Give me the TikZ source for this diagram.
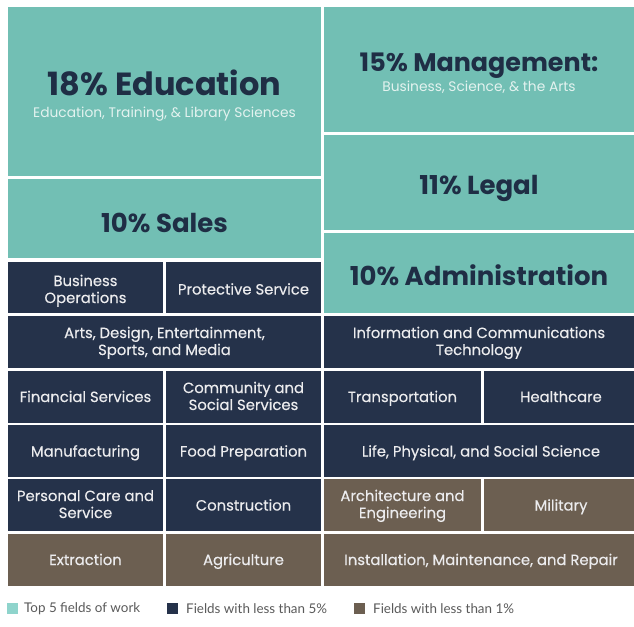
\documentclass[tikz,border=0pt]{standalone}
\usepackage{fontspec}
\setmainfont{Poppins}
\newfontfamily\legendfont{Lato}
\newfontfamily\tilefont[FakeBold=0.35]{Poppins}
\definecolor{tealc}{HTML}{72BFB4}
\definecolor{navyc}{HTML}{25324A}
\definecolor{brownc}{HTML}{6C5F51}
\definecolor{headc}{HTML}{1F2E45}
\definecolor{subc}{HTML}{E3F2EF}
\definecolor{labc}{HTML}{ECECEE}
\definecolor{legteal}{HTML}{8FD4CC}
\definecolor{legtext}{HTML}{5A5A5A}
\newcommand{\oneline}[4]{\node[labtxt] (#1) at (#2,#3+5) {#4};}
\newcommand{\twoline}[5]{\node[labtxt] (#1a) at (#2,#3-3) {#4};
  \node[labtxt] (#1b) at (#2,#3+14) {#5};}
\begin{document}
\begin{tikzpicture}[x=1pt,y=-1pt,
  tilebox/.style={inner sep=0pt, outer sep=0pt, draw=none},
  topbox/.style={tilebox, fill=tealc},
  lowbox/.style={tilebox, fill=navyc},
  rarebox/.style={tilebox, fill=brownc},
  labtxt/.style={inner sep=0pt, anchor=base, text=labc, font=\tilefont\fontsize{14.8}{17}\selectfont},
  headtxt/.style={inner sep=0pt, anchor=base, text=headc, font=\fontsize{32}{35}\selectfont\bfseries},
  midhead/.style={headtxt, font=\fontsize{26}{29}\selectfont\bfseries},
  subtxt/.style={inner sep=0pt, anchor=base, text=subc, font=\fontsize{13.8}{16}\selectfont},
  legsq/.style={inner sep=0pt, outer sep=0pt, minimum size=11pt},
  legtxt/.style={inner sep=0pt, anchor=west, text=legtext, font=\legendfont\fontsize{13.4}{15}\selectfont}
]
\useasboundingbox[fill=white] (0,0) rectangle (634,626);

% top five
\node[topbox, minimum width=313pt, minimum height=169pt] (edu) at (164.5,91.5) {};
\node[headtxt] (edut) at (164.5,95) {18\% Education};
\node[subtxt] (edus) at (164.5,117) {Education, Training, \& Library Sciences};

\node[topbox, minimum width=313pt, minimum height=79pt] (sales) at (164.5,218.5) {};
\node[midhead] (salest) at (164.5,232) {10\% Sales};

\node[topbox, minimum width=310pt, minimum height=125pt] (mgmt) at (479,69.5) {};
\node[midhead, font=\fontsize{25.4}{28}\selectfont\bfseries] (mgmtt) at (479,71) {15\% Management:};
\node[subtxt] (mgmts) at (479,91) {Business, Science, \& the Arts};

\node[topbox, minimum width=310pt, minimum height=95pt] (legal) at (479,182.5) {};
\node[midhead] (legalt) at (479,194) {11\% Legal};

\node[topbox, minimum width=310pt, minimum height=80pt] (admin) at (479,273) {};
\node[midhead] (admint) at (479,285) {10\% Administration};

% row 1
\node[lowbox, minimum width=155pt, minimum height=51pt] (busops) at (85.5,287.5) {};
\node[lowbox, minimum width=155pt, minimum height=51pt] (protect) at (243.5,287.5) {};
\twoline{busopst}{85.5}{289}{Business}{Operations}
\oneline{protectt}{243.5}{289.5}{Protective Service}
% row 2
\node[lowbox, minimum width=313pt, minimum height=52pt] (arts) at (164.5,342) {};
\node[lowbox, minimum width=310pt, minimum height=52pt] (ict) at (479,342) {};
\twoline{artst}{164.5}{341}{Arts, Design, Entertainment,}{Sports, and Media}
\twoline{ictt}{479}{341}{Information and Communications}{Technology}
% row 3
\node[lowbox, minimum width=155pt, minimum height=52pt] (fin) at (85.5,397) {};
\node[lowbox, minimum width=155pt, minimum height=52pt] (comm) at (243.5,397) {};
\node[lowbox, minimum width=157pt, minimum height=52pt] (trans) at (402.5,397) {};
\node[lowbox, minimum width=150pt, minimum height=52pt] (health) at (559,397) {};
\oneline{fint}{85.5}{397}{Financial Services}
\twoline{commt}{243.5}{396}{Community and}{Social Services}
\oneline{transt}{402.5}{397}{Transportation}
\oneline{healtht}{561}{397}{Healthcare}
% row 4
\node[lowbox, minimum width=155pt, minimum height=52pt] (manu) at (85.5,451) {};
\node[lowbox, minimum width=155pt, minimum height=52pt] (food) at (243.5,451) {};
\node[lowbox, minimum width=310pt, minimum height=52pt] (life) at (479,451) {};
\oneline{manut}{85.5}{451.5}{Manufacturing}
\oneline{foodt}{243.5}{451.5}{Food Preparation}
\oneline{lifet}{481}{451.5}{Life, Physical, and Social Science}
% row 5
\node[lowbox, minimum width=155pt, minimum height=52pt] (pers) at (85.5,505) {};
\node[lowbox, minimum width=155pt, minimum height=52pt] (constr) at (243.5,505) {};
\node[rarebox, minimum width=157pt, minimum height=52pt] (arch) at (402.5,505) {};
\node[rarebox, minimum width=150pt, minimum height=52pt] (mil) at (559,505) {};
\twoline{perst}{85.5}{504}{Personal Care and}{Service}
\oneline{constrt}{243.5}{505.5}{Construction}
\twoline{archt}{402.5}{504}{Architecture and}{Engineering}
\oneline{milt}{561}{505.5}{Military}
% row 6
\node[rarebox, minimum width=155pt, minimum height=52pt] (extr) at (85.5,560) {};
\node[rarebox, minimum width=155pt, minimum height=52pt] (agri) at (243.5,560) {};
\node[rarebox, minimum width=310pt, minimum height=52pt] (inst) at (479,560) {};
\oneline{extrt}{85.5}{560}{Extraction}
\oneline{agrit}{243.5}{560}{Agriculture}
\oneline{instt}{481}{560}{Installation, Maintenance, and Repair}

% legend
\node[legsq, fill=legteal] (sq1) at (12.5,608.5) {};
\node[legtxt] (lt1) at (24,608.5) {Top 5 fields of work};
\node[legsq, fill=navyc] (sq2) at (172.5,608.5) {};
\node[legtxt] (lt2) at (186,608.5) {Fields with less than 5\%};
\node[legsq, fill=brownc] (sq3) at (359.5,608.5) {};
\node[legtxt] (lt3) at (373,608.5) {Fields with less than 1\%};
\end{tikzpicture}
\end{document}
